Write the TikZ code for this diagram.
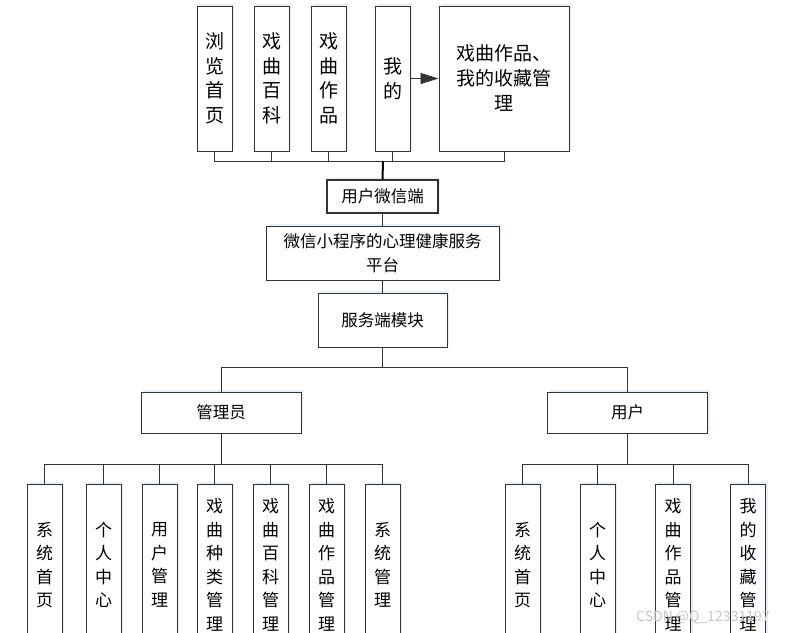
\documentclass[tikz,border=0pt]{standalone}
\usepackage{fontspec}
\setmainfont{Noto Sans CJK SC}
\usetikzlibrary{arrows.meta,shadows}
\definecolor{edge}{HTML}{333333}
\definecolor{glow}{HTML}{E6EEF8}
\tikzset{
  box/.style={draw=edge, line width=1pt, fill=white, inner sep=0pt, align=center,
    drop shadow={fill=glow, shadow xshift=2pt, shadow yshift=2pt, opacity=1}},
  vbox/.style={box, minimum width=35pt},
  topv/.style={vbox, minimum height=145pt, font=\fontsize{19}{24.5}\selectfont},
  botv/.style={vbox, minimum height=162pt, font=\fontsize{17}{23.5}\selectfont},
  midbox/.style={box, font=\fontsize{16.5}{24}\selectfont},
  link/.style={draw=edge, line width=0.9pt},
}
\begin{document}
\begin{tikzpicture}[x=1pt,y=-1pt]
\clip (0,0) rectangle (795,632);
\fill[white] (0,0) rectangle (795,632);
% top row
\node[topv] (a1) at (214.5,78.5) {浏\\览\\首\\页};
\node[topv] (a2) at (271.5,78.5) {戏\\曲\\百\\科};
\node[topv] (a3) at (328.5,78.5) {戏\\曲\\作\\品};
\node[topv] (a4) at (392.5,78.5) {我\\的};
\node[box, minimum width=130pt, minimum height=145pt, font=\fontsize{19}{25}\selectfont] (a5) at (504,78.5) {戏曲作品、\\我的收藏管\\理};
\draw[link, -{Triangle[length=18pt,width=11pt]}] (a4.east) -- (a5.west);
% middle column
\node[midbox, minimum width=111pt, minimum height=33pt, line width=1.2pt] (b1) at (382.5,196.5) {用户微信端};
\node[midbox, minimum width=233pt, minimum height=54pt] (b2) at (382.5,253) {微信小程序的心理健康服务\\平台};
\node[midbox, minimum width=129pt, minimum height=54pt] (b3) at (382.5,320) {服务端模块};
\coordinate (topbus) at (383,161);
\foreach \n in {a1,a2,a3,a4,a5} {\draw[link] (\n.south) |- (topbus);}
\draw[draw=black, line width=2pt] (topbus) -- (b1.north);
\draw[link] (b1.south) -- (b2.north);
\draw[link] (b2.south) -- (b3.north);
% roles
\node[midbox, minimum width=160pt, minimum height=41pt] (c1) at (221,412.5) {管理员};
\node[midbox, minimum width=160pt, minimum height=41pt] (c2) at (627.5,412.5) {用户};
\coordinate (mbus) at (382.5,367);
\draw[link] (b3.south) -- (mbus);
\draw[link] (mbus) -| (c1.north);
\draw[link] (mbus) -| (c2.north);
% admin functions
\node[botv] (d1) at (44.5,565) {系\\统\\首\\页};
\node[botv] (d2) at (103.5,565) {个\\人\\中\\心};
\node[botv] (d3) at (159.5,565) {用\\户\\管\\理};
\node[botv] (d4) at (214.5,565) {戏\\曲\\种\\类\\管\\理};
\node[botv] (d5) at (270.5,565) {戏\\曲\\百\\科\\管\\理};
\node[botv] (d6) at (326.5,565) {戏\\曲\\作\\品\\管\\理};
\node[botv] (d7) at (382.5,565) {系\\统\\管\\理};
\coordinate (lbus) at (221,464);
\draw[link] (c1.south) -- (lbus);
\foreach \n in {d1,d2,d3,d4,d5,d6,d7} {\draw[link] (lbus) -| (\n.north);}
% user functions
\node[botv] (e1) at (522.5,565) {系\\统\\首\\页};
\node[botv] (e2) at (597.5,565) {个\\人\\中\\心};
\node[botv] (e3) at (673,565) {戏\\曲\\作\\品\\管\\理};
\node[botv] (e4) at (748,565) {我\\的\\收\\藏\\管\\理};
\coordinate (rbus) at (627.5,464);
\draw[link] (c2.south) -- (rbus);
\foreach \n in {e1,e2,e3,e4} {\draw[link] (rbus) -| (\n.north);}
% watermark
\node[text=black!22, font=\fontsize{14}{14}\selectfont, anchor=west, inner sep=0pt] (wm) at (636,618) {CSDN @Q\_12331197};
\end{tikzpicture}
\end{document}
